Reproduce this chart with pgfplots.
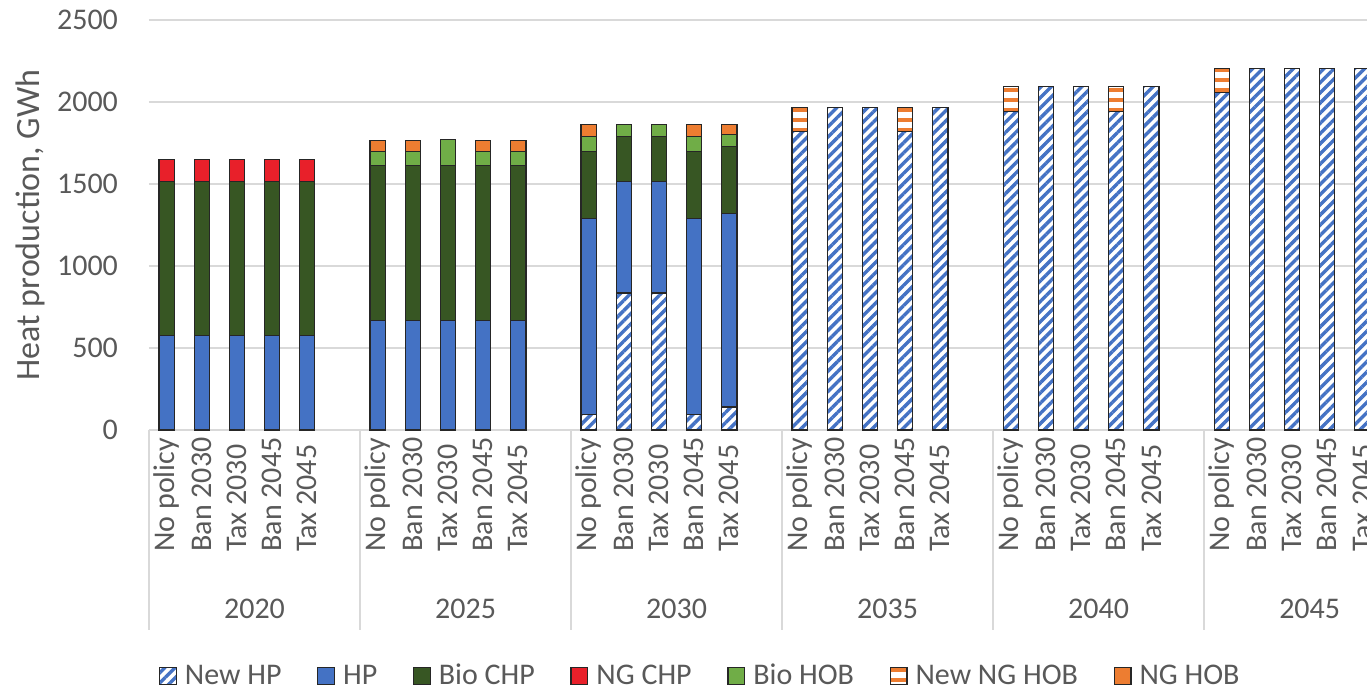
\documentclass[border=0pt]{standalone}
\usepackage{fontspec}
\setmainfont{Carlito}
\usepackage{pgfplots}
\usepackage{pgfplotstable}
\pgfplotsset{compat=1.18}
\usetikzlibrary{patterns.meta}
\definecolor{hpblue}{HTML}{4472C4}
\definecolor{biochp}{HTML}{375623}
\definecolor{ngchp}{HTML}{E8202A}
\definecolor{biohob}{HTML}{70AD47}
\definecolor{nghob}{HTML}{ED7D31}
\definecolor{txt}{HTML}{595959}
\definecolor{grd}{HTML}{D9D9D9}

\pgfplotstableread{
x  newhp  hp    biochp ngchp biohob newnghob nghob
0  0      575   940    135   0      0        0
1  0      575   940    135   0      0        0
2  0      575   940    135   0      0        0
3  0      575   940    135   0      0        0
4  0      575   940    135   0      0        0
6  0      670   945    0     85     0        65
7  0      670   945    0     85     0        65
8  0      670   945    0     155    0        0
9  0      670   945    0     85     0        65
10 0      670   945    0     85     0        65
12 95     1195  410    0     90     0        75
13 835    680   275    0     75     0        0
14 835    680   275    0     75     0        0
15 95     1195  410    0     90     0        75
16 140    1180  410    0     70     0        65
18 1820   0     0      0     0      145      0
19 1965   0     0      0     0      0        0
20 1965   0     0      0     0      0        0
21 1820   0     0      0     0      145      0
22 1965   0     0      0     0      0        0
24 1940   0     0      0     0      155      0
25 2095   0     0      0     0      0        0
26 2095   0     0      0     0      0        0
27 1940   0     0      0     0      155      0
28 2095   0     0      0     0      0        0
30 2060   0     0      0     0      145      0
31 2205   0     0      0     0      0        0
32 2205   0     0      0     0      0        0
33 2205   0     0      0     0      0        0
34 2205   0     0      0     0      0        0
}\data

\newcommand{\tf}{\fontsize{15}{18}\selectfont}

\begin{document}
\begin{tikzpicture}
\begin{axis}[
  at={(0,0)}, anchor=south west,
  scale only axis,
  width=609pt, height=205pt,
  xmin=-0.5, xmax=34.13,
  ymin=0, ymax=2500,
  clip=false,
  ybar stacked,
  bar width=7.6pt,
  ytick={0,500,1000,1500,2000,2500},
  ymajorgrids,
  grid style={grd, line width=0.9pt},
  axis x line*=bottom, axis y line*=left,
  y axis line style={draw=none},
  x axis line style={grd, line width=0.9pt, -},
  ytick style={draw=none},
  xtick style={draw=none},
  /pgf/number format/assume math mode=true,
  /pgf/number format/1000 sep={},
  yticklabel style={font=\tf, text=txt, xshift=-12pt},
  xtick={0,1,2,3,4,6,7,8,9,10,12,13,14,15,16,18,19,20,21,22,24,25,26,27,28,30,31,32,33,34},
  xticklabels={No policy,Ban 2030,Tax 2030,Ban 2045,Tax 2045,
               No policy,Ban 2030,Tax 2030,Ban 2045,Tax 2045,
               No policy,Ban 2030,Tax 2030,Ban 2045,Tax 2045,
               No policy,Ban 2030,Tax 2030,Ban 2045,Tax 2045,
               No policy,Ban 2030,Tax 2030,Ban 2045,Tax 2045,
               No policy,Ban 2030,Tax 2030,Ban 2045,Tax 2045},
  xticklabel style={font=\tf, text=txt, rotate=90, anchor=west, inner sep=1pt},
  xticklabel shift=62pt,
  ylabel={Heat production, GWh},
  ylabel style={font=\fontsize{17}{20}\selectfont, text=txt, at={(axis description cs:-0.0977,0.5)}, anchor=center},
  legend columns=7,
  legend style={at={(0.455,-0.6)}, anchor=center, draw=none, font=\tf, text=txt,
    /tikz/every odd column/.append style={column sep=0pt},
    /tikz/every even column/.append style={column sep=13.8pt},
    nodes={inner xsep=4pt}},
  legend image code/.code={\draw[#1, line width=0.6pt] (0pt,-4.2pt) rectangle (8.4pt,4.2pt);},
  every axis plot/.append style={draw=black!85, line width=0.6pt},
]
\addplot[fill=white, postaction={pattern={Lines[angle=45,distance=3.6pt,line width=1.7pt]}, pattern color=hpblue}] table[x=x,y=newhp]{\data};
\addlegendentry{New HP}
\addplot[fill=hpblue] table[x=x,y=hp]{\data};
\addlegendentry{HP}
\addplot[fill=biochp] table[x=x,y=biochp]{\data};
\addlegendentry{Bio CHP}
\addplot[fill=ngchp] table[x=x,y=ngchp]{\data};
\addlegendentry{NG CHP}
\addplot[fill=biohob] table[x=x,y=biohob]{\data};
\addlegendentry{Bio HOB}
\addplot[fill=white, postaction={pattern={Lines[angle=0,distance=5pt,line width=2.4pt]}, pattern color=nghob}] table[x=x,y=newnghob]{\data};
\addlegendentry{New NG HOB}
\addplot[fill=nghob] table[x=x,y=nghob]{\data};
\addlegendentry{NG HOB}

\pgfplotsinvokeforeach{-0.5,5.5,11.5,17.5,23.5,29.5}{
  \draw[grd, line width=0.9pt] (axis cs:#1,0) -- ++(0pt,-100pt);
}
\node[font=\tf, text=txt, yshift=-89.5pt] at (axis cs:2.5,0) {2020};
\node[font=\tf, text=txt, yshift=-89.5pt] at (axis cs:8.5,0) {2025};
\node[font=\tf, text=txt, yshift=-89.5pt] at (axis cs:14.5,0) {2030};
\node[font=\tf, text=txt, yshift=-89.5pt] at (axis cs:20.5,0) {2035};
\node[font=\tf, text=txt, yshift=-89.5pt] at (axis cs:26.5,0) {2040};
\node[font=\tf, text=txt, yshift=-89.5pt] at (axis cs:32.5,0) {2045};
\end{axis}
\pgfresetboundingbox
\path[use as bounding box] (-74.5pt,-130pt) rectangle (609pt,215pt);
\end{tikzpicture}
\end{document}
